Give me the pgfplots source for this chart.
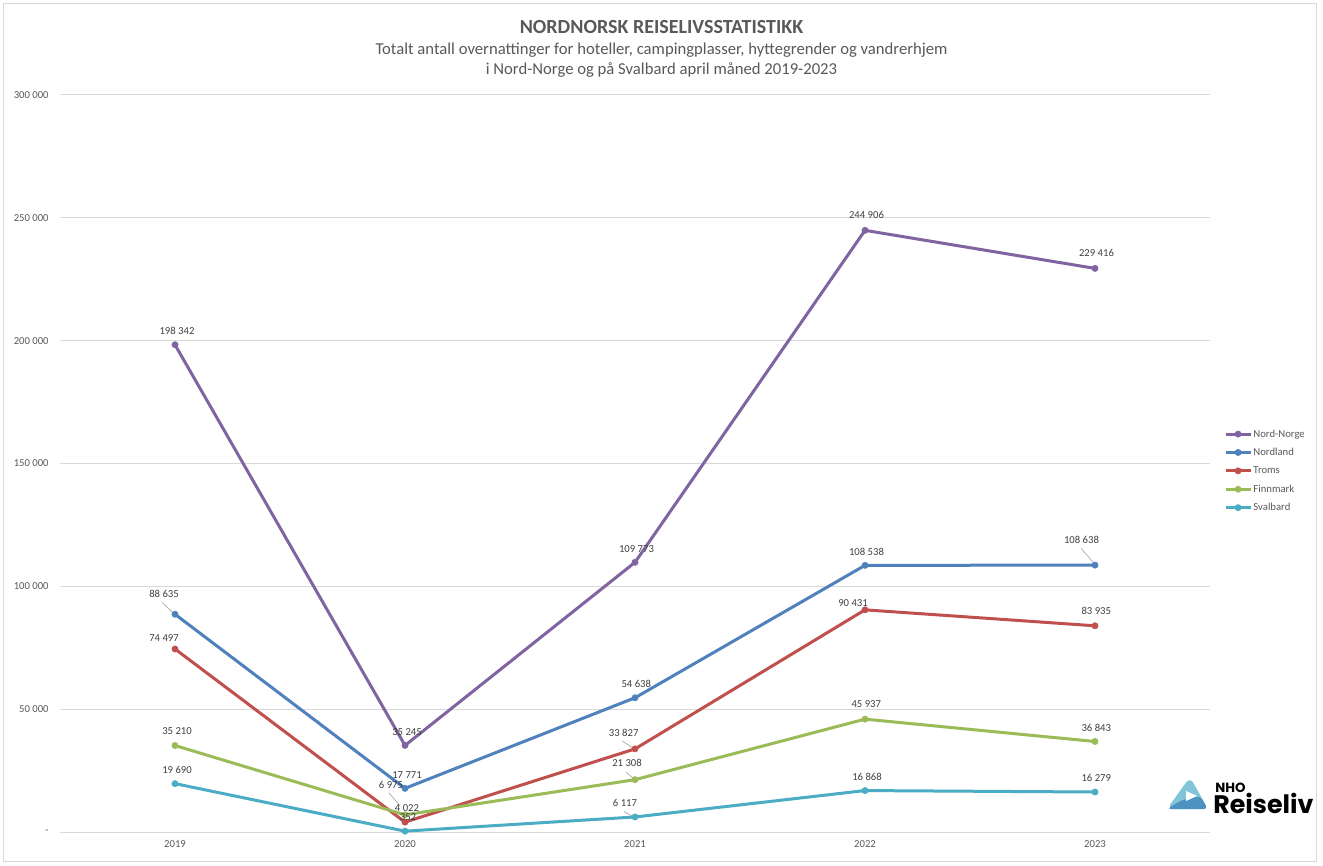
\documentclass[border=0pt]{standalone}
\usepackage{pgfplots}
\pgfplotsset{compat=1.18}
\usepackage{pgfplotstable}
\usepackage{fontspec}
\setmainfont{Carlito}
\newfontfamily\logofont{Poppins}

\definecolor{nn}{HTML}{8064A2}
\definecolor{nl}{HTML}{4F81BD}
\definecolor{tr}{HTML}{C0504D}
\definecolor{fm}{HTML}{9BBB59}
\definecolor{sv}{HTML}{4BACC6}
\definecolor{gridgray}{HTML}{D9D9D9}
\definecolor{textgray}{HTML}{595959}
\definecolor{labgray}{HTML}{404040}
\definecolor{leadgray}{HTML}{A6A6A6}

% x, y, label, label offset in px (dx right, dy down)
\pgfplotstableread[col sep=comma]{
x,y,lab,dx,dy
2019,198342,198 342,2,-14
2020,35245,35 245,2,-13.5
2021,109773,109 773,1.5,-13
2022,244906,244 906,1.5,-15
2023,229416,229 416,1.5,-15
}\nordnorge
\pgfplotstableread[col sep=comma]{
x,y,lab,dx,dy
2019,88635,88 635,-11,-20
2020,17771,17 771,2,-13
2021,54638,54 638,1.3,-14
2022,108538,108 538,1.5,-13.5
2023,108638,108 638,-13.5,-25.6
}\nordland
\pgfplotstableread[col sep=comma]{
x,y,lab,dx,dy
2019,74497,74 497,-11,-10.5
2020,4022,4 022,2,-14
2021,33827,33 827,-11.3,-16
2022,90431,90 431,-12,-7
2023,83935,83 935,1.3,-15
}\troms
\pgfplotstableread[col sep=comma]{
x,y,lab,dx,dy
2019,35210,35 210,2,-14
2020,6975,6 975,-14,-30
2021,21308,21 308,-8,-16.4
2022,45937,45 937,1.3,-14.6
2023,36843,36 843,1.3,-13.7
}\finnmark
\pgfplotstableread[col sep=comma]{
x,y,lab,dx,dy
2019,19690,19 690,2,-14
2020,352,352,3,-14
2021,6117,6 117,-10,-14.5
2022,16868,16 868,2,-13.6
2023,16279,16 279,1.3,-14
}\svalbard

\pgfplotsset{
  series/.style={line width=2.25pt, mark=*, mark size=2.35pt, mark options={line width=0.4pt}},
  lbl/.style={
    forget plot,
    point meta=explicit symbolic,
    nodes near coords={\pgfplotspointmeta},
    visualization depends on={\thisrow{dx} \as \dx},
    visualization depends on={\thisrow{dy} \as \dy},
    nodes near coords style={font=\fontsize{8}{9}\selectfont, text=labgray,
      anchor=center, inner sep=0pt, xshift={\dx*0.75pt}, yshift={-0.75pt*(\dy)}},
  },
}

\begin{document}
\begin{tikzpicture}
\useasboundingbox (0,0) rectangle (992.25pt,-649.5pt);
\fill[white] (0,0) rectangle (992.25pt,-649.5pt);
\draw[gridgray, line width=0.75pt] (2.6pt,-2.6pt) rectangle (987.4pt,-646.1pt);

\begin{axis}[
  at={(45pt,-624pt)}, anchor=south west, scale only axis,
  width=862.5pt, height=552.75pt,
  xmin=2018.5, xmax=2023.5, ymin=0, ymax=300000,
  xtick={2019,2020,2021,2022,2023},
  xticklabels={2019,2020,2021,2022,2023},
  ytick={0,50000,100000,150000,200000,250000,300000},
  yticklabels={-\hspace{4.5pt},50 000,100 000,150 000,200 000,250 000,300 000},
  scaled y ticks=false,
  ymajorgrids, major grid style={draw=gridgray, line width=0.75pt},
  axis line style={draw=none}, tick style={draw=none},
  ticklabel style={font=\fontsize{8}{9}\selectfont, text=textgray},
  yticklabel style={xshift=-5pt},
  xticklabel style={yshift=-3pt},
  clip=false,
  legend image code/.code={
    \draw[mark repeat=2, mark phase=2] plot coordinates {(0pt,0pt) (9.4pt,0pt) (18.8pt,0pt)};},
  legend style={at={(axis description cs:1.012,0.49)}, anchor=west,
    draw=none, fill=none, font=\fontsize{8}{9}\selectfont, text=textgray,
    row sep=6.3pt, column sep=1pt, inner sep=0pt,
    nodes={inner sep=0pt, text height=6pt, text depth=1.5pt}},
  legend cell align=left,
]
% leader lines
\draw[leadgray, line width=0.5pt] ([xshift=-9.5pt,yshift=8.7pt]axis cs:2019,88635) -- ([xshift=-1.9pt,yshift=1.5pt]axis cs:2019,88635);
\draw[leadgray, line width=0.5pt] ([xshift=-10.5pt,yshift=12.6pt]axis cs:2023,108638) -- ([xshift=-1.1pt,yshift=1.8pt]axis cs:2023,108638);
\draw[leadgray, line width=0.5pt] ([xshift=-9.5pt,yshift=5.9pt]axis cs:2021,33827) -- ([xshift=-1.5pt,yshift=0.6pt]axis cs:2021,33827);
\draw[leadgray, line width=0.5pt] ([xshift=-12pt,yshift=16.5pt]axis cs:2020,6975) -- ([xshift=-3.75pt,yshift=6.75pt]axis cs:2020,6975);
\draw[leadgray, line width=0.5pt] ([xshift=-6.75pt,yshift=5.55pt]axis cs:2021,21308) -- ([xshift=-1.3pt,yshift=1.05pt]axis cs:2021,21308);
\draw[leadgray, line width=0.5pt] ([xshift=-8.25pt,yshift=4pt]axis cs:2021,6117) -- ([xshift=-1.3pt,yshift=0.2pt]axis cs:2021,6117);

\addplot[color=nn, series, lbl] table[x=x, y=y, meta=lab] {\nordnorge};
\addplot[color=nl, series, lbl] table[x=x, y=y, meta=lab] {\nordland};
\addplot[color=tr, series, lbl] table[x=x, y=y, meta=lab] {\troms};
\addplot[color=fm, series, lbl] table[x=x, y=y, meta=lab] {\finnmark};
\addplot[color=sv, series, lbl] table[x=x, y=y, meta=lab] {\svalbard};

\addlegendimage{color=nn, series}
\addlegendentry{Nord-Norge}
\addlegendimage{color=nl, series}
\addlegendentry{Nordland}
\addlegendimage{color=tr, series}
\addlegendentry{Troms}
\addlegendimage{color=fm, series}
\addlegendentry{Finnmark}
\addlegendimage{color=sv, series}
\addlegendentry{Svalbard}
\end{axis}

\begin{scope}[x=0.75pt, y=-0.75pt]
% titles
\node[text=textgray, font=\fontsize{15}{18}\selectfont\bfseries, anchor=base] at (661.5,34) {NORDNORSK REISELIVSSTATISTIKK};
\node[text=textgray, font=\fontsize{12.5}{15}\selectfont, anchor=base] at (661.5,55) {Totalt antall overnattinger for hoteller, campingplasser, hyttegrender og vandrerhjem};
\node[text=textgray, font=\fontsize{12.5}{15}\selectfont, anchor=base] at (661.5,75) {i Nord-Norge og på Svalbard april måned 2019-2023};
% logo
\fill[color=sv!70!white, rounded corners=5pt] (1190,777) -- (1208,809) -- (1167,809) -- cycle;
\fill[color=nl!60!sv, rounded corners=3pt] (1167,809) -- (1208,809) -- (1200,796) -- (1182,800) -- cycle;
\fill[white] (1186,791) -- (1197,796) -- (1186,801) -- cycle;
\node[anchor=base west, inner sep=0pt, font=\logofont\bfseries\fontsize{10}{12}\selectfont] at (1215,792) {NHO};
\node[anchor=base west, inner sep=0pt, font=\logofont\bfseries\fontsize{19}{23}\selectfont] at (1213,813) {Reiseliv};
\end{scope}
\end{tikzpicture}
\end{document}
